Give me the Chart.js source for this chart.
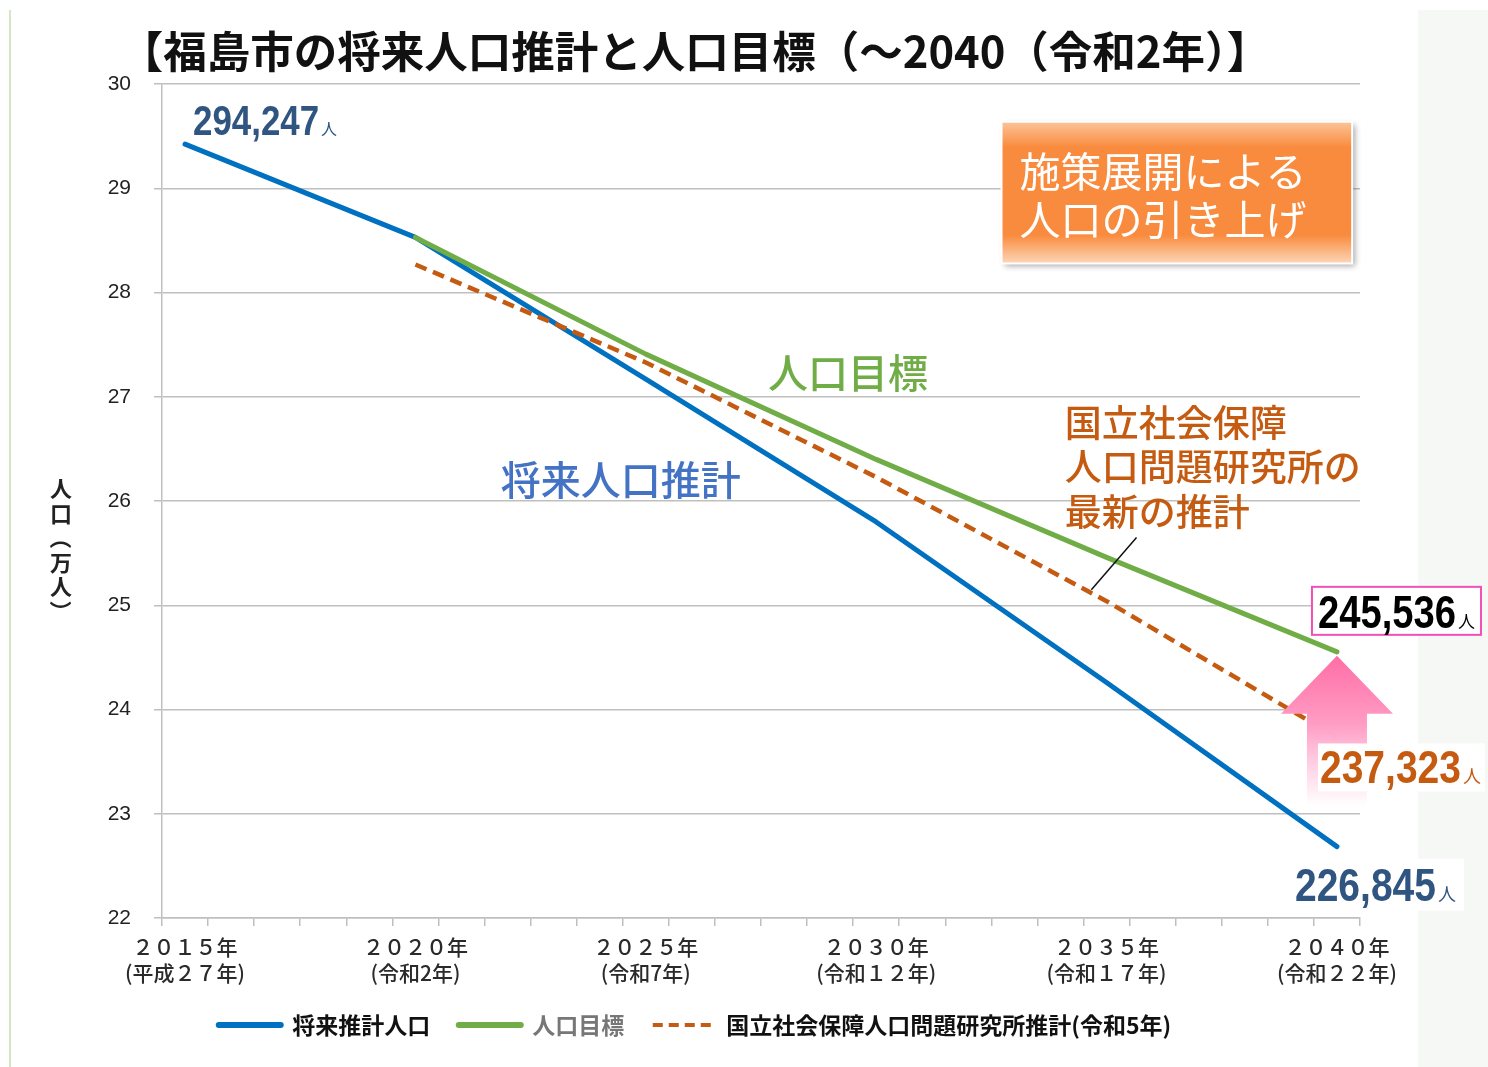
<!DOCTYPE html>
<html lang="ja">
<head>
<meta charset="utf-8">
<title>福島市の将来人口推計と人口目標</title>
<script src="https://cdn.jsdelivr.net/npm/chart.js@4.4.1/dist/chart.umd.min.js"></script>
<style>
  html, body { margin: 0; padding: 0; background: #fff; }
  #wrap { width: 1488px; height: 1067px; }
</style>
</head>
<body>
<div id="wrap"><canvas id="popChart" width="1488" height="1067"></canvas></div>
<script>
// categories: one per year, labels only on the 5-year marks
const years = ['2015', '2016', '2017', '2018', '2019', '2020', '2021', '2022', '2023', '2024',
  '2025', '2026', '2027', '2028', '2029', '2030', '2031', '2032', '2033', '2034',
  '2035', '2036', '2037', '2038', '2039', '2040'];
const milestoneYears = ['2015', '2020', '2025', '2030', '2035', '2040'];
const milestoneLabels = ['２０１５年', '２０２０年', '２０２５年', '２０３０年', '２０３５年', '２０４０年'];
const eraLabels = ['(平成２７年)', '(令和2年)', '(令和7年)', '(令和１２年)', '(令和１７年)', '(令和２２年)'];

// population in 万人 (10,000 people)
const projectedPop = [29.4247, 28.53, 27.17, 25.80, 24.26, 22.6845];
const targetPop = [null, 28.53, 27.41, 26.40, 25.46, 24.5536];
const ipssPop = [null, 28.27, 27.33, 26.23, 25.04, 23.7323];

const yTicks = [22, 23, 24, 25, 26, 27, 28, 29, 30];
const legendTextColors = ['#111111', '#777777', '#111111'];

const JP = '"Noto Sans CJK JP", "Noto Sans", sans-serif';
const NUM_FAMILY = '"Liberation Sans", sans-serif';
const NUM_SQUEEZE = 0.83;   // the figures in the original are condensed
const LEGEND_PAD = 28.5;
const X_AXIS_HEIGHT = 67;

const toPoints = values => milestoneYears
  .map((yr, i) => ({ x: yr, y: values[i] }))
  .filter(p => p.y !== null);

const fmtPeople = v => Math.round(v * 10000).toLocaleString('en-US');

const unitFont = size => Math.round(size * 0.38) + 'px ' + JP;

function valueWidth(ctx, num, size) {
  ctx.font = 'bold ' + size + 'px ' + NUM_FAMILY;
  const w1 = ctx.measureText(num).width * NUM_SQUEEZE;
  ctx.font = unitFont(size);
  return w1 + ctx.measureText('人').width + 2;
}

// number + small 人
function drawValue(ctx, num, x, baseline, color, size) {
  ctx.font = 'bold ' + size + 'px ' + NUM_FAMILY;
  const w1 = ctx.measureText(num).width * NUM_SQUEEZE;
  ctx.textAlign = 'left';
  ctx.textBaseline = 'alphabetic';
  ctx.fillStyle = color;
  ctx.save();
  ctx.translate(x, baseline);
  ctx.scale(NUM_SQUEEZE, 1);
  ctx.fillText(num, 0, 0);
  ctx.restore();
  ctx.font = unitFont(size);
  ctx.fillText('人', x + w1 + 2, baseline);
}

const annotationPlugin = {
  id: 'annotations',
  beforeDraw(chart) {
    const { ctx, width, height } = chart;
    ctx.save();
    ctx.fillStyle = '#ffffff';
    ctx.fillRect(0, 0, width, height);
    ctx.fillStyle = '#f6f8f6';
    ctx.fillRect(1418, 10, width - 1418, height - 10);
    ctx.strokeStyle = '#d3e6c6';
    ctx.lineWidth = 2;
    ctx.beginPath();
    ctx.moveTo(10, 10);
    ctx.lineTo(10, height);
    ctx.stroke();
    ctx.restore();
  },
  afterDatasetsDraw(chart) {
    const { ctx } = chart;
    const xs = chart.scales.x, ys = chart.scales.y;
    const px = i => xs.getPixelForValue(i);
    const py = v => ys.getPixelForValue(v);
    const last = years.length - 1;
    ctx.save();

    // pink arrow: from the IPSS estimate up to the target
    const ax = px(last);
    const tip = py(targetPop[5]) + 4;
    const grad = ctx.createLinearGradient(0, tip, 0, tip + 150);
    grad.addColorStop(0, '#ff6ea6');
    grad.addColorStop(0.45, '#ff9cc4');
    grad.addColorStop(1, 'rgba(255,255,255,0.9)');
    ctx.fillStyle = grad;
    ctx.beginPath();
    ctx.moveTo(ax, tip);
    ctx.lineTo(ax + 56, tip + 58);
    ctx.lineTo(ax + 30, tip + 58);
    ctx.lineTo(ax + 30, tip + 150);
    ctx.lineTo(ax - 30, tip + 150);
    ctx.lineTo(ax - 30, tip + 58);
    ctx.lineTo(ax - 56, tip + 58);
    ctx.closePath();
    ctx.fill();

    // value labels
    drawValue(ctx, fmtPeople(projectedPop[0]), px(0) + 8, py(projectedPop[0]) - 9, '#2f5580', 42);

    let num = fmtPeople(projectedPop[5]);
    let bx = px(last) - 42, bl = py(projectedPop[5]) + 54;
    let w = valueWidth(ctx, num, 47);
    ctx.fillStyle = '#ffffff';
    ctx.fillRect(bx - 4, bl - 42, w + 12, 52);
    drawValue(ctx, num, bx, bl, '#2f5580', 47);

    num = fmtPeople(ipssPop[5]);
    bx = px(last) - 17; bl = py(ipssPop[5]) + 46;
    w = valueWidth(ctx, num, 47);
    ctx.fillStyle = '#ffffff';
    ctx.fillRect(bx - 2, bl - 40, w + 6, 48);
    drawValue(ctx, num, bx, bl, '#c55a11', 47);

    num = fmtPeople(targetPop[5]);
    bx = px(last) - 19; bl = py(targetPop[5]) - 24;
    w = valueWidth(ctx, num, 46);
    ctx.fillStyle = '#ffffff';
    ctx.fillRect(bx - 6, bl - 41, w + 12, 48);
    ctx.strokeStyle = '#f050b8';
    ctx.lineWidth = 2;
    ctx.strokeRect(bx - 6, bl - 41, w + 12, 48);
    drawValue(ctx, num, bx, bl, '#000000', 46);

    // orange callout box
    const l = px(17.72), t = py(29.64), r = px(25.33), b = py(28.28);
    ctx.save();
    ctx.shadowColor = 'rgba(0,0,0,0.35)';
    ctx.shadowBlur = 6;
    ctx.shadowOffsetX = 3;
    ctx.shadowOffsetY = 3;
    const og = ctx.createLinearGradient(0, t, 0, b);
    og.addColorStop(0, '#fcc49a');
    og.addColorStop(0.18, '#f98b3e');
    og.addColorStop(0.8, '#f98b3e');
    og.addColorStop(1, '#fdd6b8');
    ctx.fillStyle = og;
    ctx.fillRect(l, t, r - l, b - t);
    ctx.restore();
    ctx.strokeStyle = '#ffffff';
    ctx.lineWidth = 2;
    ctx.strokeRect(l, t, r - l, b - t);
    ctx.fillStyle = '#ffffff';
    ctx.font = '41px ' + JP;
    ctx.textAlign = 'left';
    ctx.textBaseline = 'middle';
    ctx.fillText('施策展開による', l + 18, t + 50);
    ctx.fillText('人口の引き上げ', l + 18, t + 98);

    // series captions
    ctx.font = '500 40px ' + JP;
    ctx.fillStyle = '#70ad47';
    ctx.fillText('人口目標', px(12.65), py(27.23));
    ctx.fillStyle = '#4472c4';
    ctx.fillText('将来人口推計', px(6.85), py(26.20));

    ctx.font = '500 37px ' + JP;
    ctx.fillStyle = '#c55a11';
    const capY = py(26.75);
    ['国立社会保障', '人口問題研究所の', '最新の推計'].forEach((s, i) => {
      ctx.fillText(s, px(19.09), capY + i * 44.5);
    });

    // leader line to the IPSS estimate
    ctx.strokeStyle = '#111111';
    ctx.lineWidth = 1.5;
    ctx.beginPath();
    ctx.moveTo(px(20.65), py(25.65));
    ctx.lineTo(px(19.67), py(25.15));
    ctx.stroke();

    ctx.restore();
  },
  afterDraw(chart) {
    // vertical y-axis title, characters upright
    const { ctx } = chart;
    const chars = Array.from('人口（万人）');
    ctx.save();
    ctx.font = 'bold 22px ' + JP;
    ctx.fillStyle = '#222222';
    ctx.textAlign = 'center';
    ctx.textBaseline = 'middle';
    chars.forEach((c, i) => {
      const cy = 489 + i * 24.5;
      if (c === '（' || c === '）') {
        ctx.save();
        ctx.translate(61, cy);
        ctx.rotate(Math.PI / 2);
        ctx.fillText(c, 0, 0);
        ctx.restore();
      } else {
        ctx.fillText(c, 61, cy);
      }
    });
    ctx.restore();
  }
};

new Chart(document.getElementById('popChart'), {
  type: 'line',
  data: {
    labels: years,
    datasets: [
      {
        label: '将来推計人口',
        data: toPoints(projectedPop),
        borderColor: '#0070c0',
        borderWidth: 5,
        borderCapStyle: 'round',
        order: 3
      },
      {
        label: '人口目標',
        data: toPoints(targetPop),
        borderColor: '#70ad47',
        borderWidth: 5,
        borderCapStyle: 'round',
        order: 1
      },
      {
        label: '国立社会保障人口問題研究所推計(令和5年)',
        data: toPoints(ipssPop),
        borderColor: '#c55a11',
        borderWidth: 4.5,
        borderDash: [12, 7],
        order: 2
      }
    ]
  },
  options: {
    responsive: false,
    animation: false,
    devicePixelRatio: 1,
    // bottom padding puts the legend row centre at y = 1025
    layout: { padding: { left: 30, right: 128, top: 0, bottom: 1067 - 1025 - 11.5 - 10 } },
    elements: {
      point: { radius: 0, hoverRadius: 0 },
      line: { tension: 0, borderJoinStyle: 'round', fill: false }
    },
    scales: {
      x: {
        type: 'category',
        offset: true,
        grid: { offset: true, drawOnChartArea: false, drawTicks: true, tickLength: 8, color: '#bfbfbf', lineWidth: 1.5 },
        border: { color: '#bfbfbf', width: 1.5 },
        ticks: {
          autoSkip: false,
          maxRotation: 0,
          minRotation: 0,
          padding: 8,
          color: '#2a2a2a',
          font: { family: JP, size: 21, weight: '500', lineHeight: 1.25 },
          callback(value, index) {
            const k = milestoneYears.indexOf(years[index]);
            return k >= 0 ? [milestoneLabels[k], eraLabels[k]] : '';
          }
        },
        afterFit(scale) { scale.height = X_AXIS_HEIGHT; }
      },
      y: {
        min: yTicks[0],
        max: yTicks[yTicks.length - 1],
        afterBuildTicks(scale) { scale.ticks = yTicks.map(v => ({ value: v })); },
        grid: { color: '#bfbfbf', lineWidth: 1.5, tickLength: 8 },
        border: { color: '#bfbfbf', width: 1.5 },
        ticks: {
          padding: 23,
          color: '#222222',
          font: { family: NUM_FAMILY, size: 21 }
        },
        afterFit(scale) { scale.width = 132; }
      }
    },
    plugins: {
      title: {
        display: true,
        text: '【福島市の将来人口推計と人口目標（～2040（令和2年）】',
        color: '#111111',
        font: { family: JP, size: 43.5, weight: 'bold' },
        padding: { top: 25, bottom: 7 }
      },
      legend: {
        position: 'bottom',
        labels: {
          usePointStyle: true,
          pointStyleWidth: 62,
          boxHeight: 23,
          padding: LEGEND_PAD,
          font: { family: JP, size: 23, weight: 'bold' },
          generateLabels(chart) {
            return chart.data.datasets.map((ds, i) => ({
              text: ds.label,
              datasetIndex: i,
              hidden: !chart.isDatasetVisible(i),
              fillStyle: ds.borderColor,
              strokeStyle: ds.borderColor,
              lineWidth: i === 2 ? 4 : 6,
              lineCap: i === 2 ? 'butt' : 'round',
              lineDash: i === 2 ? [10, 6] : [],
              pointStyle: 'line',
              fontColor: legendTextColors[i]
            }));
          }
        }
      },
      tooltip: { enabled: false }
    }
  },
  plugins: [annotationPlugin]
});
</script>
</body>
</html>
